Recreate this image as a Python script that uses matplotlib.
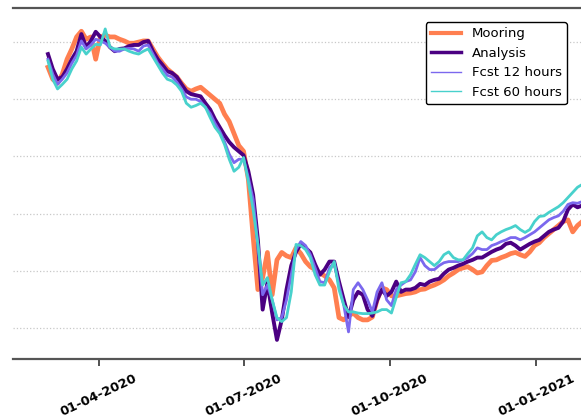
import numpy as np
import pandas as pd
import matplotlib
matplotlib.use("Agg")
import matplotlib.pyplot as plt
import matplotlib.dates as mdates

# 3-day samples starting on 29 Feb 2020
dates = pd.date_range("2020-02-29", periods=113, freq="3D")

mooring = [
    22.56, 22.35, 22.28, 22.44, 22.70, 22.88, 23.09, 23.19, 23.05, 23.09,
    22.70, 23.09, 23.12, 23.09, 23.09, 23.05, 23.02, 22.98, 22.98, 23.00,
    23.02, 23.02, 22.88, 22.74, 22.63, 22.53, 22.46, 22.39, 22.28, 22.18,
    22.14, 22.18, 22.21, 22.14, 22.07, 22.00, 21.93, 21.74, 21.61, 21.40,
    21.19, 21.09, 20.60, 19.60, 18.67, 18.88, 19.32, 18.58, 19.19, 19.32,
    19.26, 19.23, 19.40, 19.30, 19.16, 19.07, 19.02, 18.96, 18.91, 18.84,
    18.70, 18.18, 18.14, 18.21, 18.26, 18.18, 18.14, 18.14, 18.19, 18.49,
    18.70, 18.67, 18.56, 18.56, 18.58, 18.60, 18.61, 18.63, 18.67, 18.68,
    18.72, 18.75, 18.79, 18.84, 18.91, 18.96, 19.02, 19.05, 19.07, 19.02,
    18.96, 18.98, 19.09, 19.18, 19.19, 19.23, 19.26, 19.30, 19.32, 19.28,
    19.25, 19.33, 19.44, 19.49, 19.58, 19.65, 19.72, 19.79, 19.86, 19.89,
    19.68, 19.79, 19.86,
]

analysis = [
    22.79, 22.53, 22.35, 22.39, 22.53, 22.70, 22.84, 23.14, 22.91, 23.02,
    23.18, 23.09, 23.02, 22.91, 22.84, 22.88, 22.89, 22.93, 22.95, 22.95,
    23.00, 23.02, 22.84, 22.70, 22.60, 22.49, 22.46, 22.39, 22.26, 22.14,
    22.09, 22.07, 22.05, 21.93, 21.82, 21.65, 21.51, 21.37, 21.25, 21.16,
    21.09, 21.02, 20.74, 20.33, 19.54, 18.32, 18.79, 18.26, 17.79, 18.14,
    18.67, 19.09, 19.33, 19.47, 19.40, 19.32, 19.11, 18.93, 19.02, 19.16,
    19.16, 18.81, 18.49, 18.19, 18.49, 18.63, 18.58, 18.32, 18.21, 18.49,
    18.67, 18.56, 18.63, 18.81, 18.63, 18.67, 18.67, 18.70, 18.77, 18.75,
    18.81, 18.84, 18.86, 18.95, 19.02, 19.05, 19.09, 19.12, 19.16, 19.19,
    19.23, 19.23, 19.28, 19.33, 19.37, 19.40, 19.47, 19.49, 19.44, 19.37,
    19.42, 19.47, 19.51, 19.54, 19.61, 19.68, 19.72, 19.75, 19.86, 20.07,
    20.16, 20.11, 20.14,
]

fcst_12h = [
    22.70, 22.44, 22.26, 22.35, 22.46, 22.63, 22.77, 23.02, 22.88, 22.95,
    23.05, 23.02, 22.98, 22.91, 22.84, 22.84, 22.88, 22.89, 22.88, 22.84,
    22.93, 22.95, 22.79, 22.63, 22.53, 22.42, 22.39, 22.30, 22.18, 22.04,
    22.00, 22.00, 21.96, 21.86, 21.75, 21.58, 21.44, 21.26, 21.04, 20.89,
    20.95, 20.95, 20.63, 20.25, 19.46, 18.58, 18.75, 18.49, 18.14, 18.18,
    18.49, 18.93, 19.37, 19.51, 19.44, 19.28, 19.05, 18.81, 18.79, 19.05,
    19.14, 18.75, 18.40, 17.93, 18.67, 18.79, 18.67, 18.49, 18.28, 18.63,
    18.79, 18.49, 18.39, 18.67, 18.75, 18.81, 18.84, 18.98, 19.23, 19.09,
    19.02, 19.02, 19.09, 19.14, 19.16, 19.16, 19.16, 19.19, 19.23, 19.30,
    19.40, 19.37, 19.37, 19.44, 19.47, 19.51, 19.54, 19.58, 19.58, 19.54,
    19.58, 19.63, 19.68, 19.75, 19.82, 19.89, 19.93, 19.96, 20.04, 20.16,
    20.19, 20.18, 20.21,
]

fcst_60h = [
    22.67, 22.35, 22.18, 22.26, 22.35, 22.53, 22.67, 22.91, 22.79, 22.88,
    22.96, 22.95, 23.23, 22.91, 22.88, 22.88, 22.88, 22.84, 22.81, 22.79,
    22.84, 22.88, 22.74, 22.60, 22.46, 22.35, 22.32, 22.25, 22.14, 21.93,
    21.86, 21.89, 21.93, 21.86, 21.68, 21.51, 21.40, 21.21, 20.95, 20.74,
    20.81, 20.98, 20.56, 20.07, 19.46, 18.75, 18.88, 18.49, 18.18, 18.11,
    18.18, 18.63, 19.46, 19.44, 19.37, 19.23, 18.93, 18.75, 18.75, 18.98,
    19.16, 18.67, 18.40, 18.28, 18.28, 18.26, 18.25, 18.25, 18.26, 18.28,
    18.32, 18.32, 18.26, 18.53, 18.79, 18.81, 18.93, 19.11, 19.28, 19.23,
    19.16, 19.09, 19.16, 19.28, 19.33, 19.23, 19.19, 19.19, 19.30, 19.40,
    19.61, 19.68, 19.58, 19.54, 19.63, 19.68, 19.72, 19.75, 19.79, 19.72,
    19.67, 19.72, 19.86, 19.95, 19.96, 20.02, 20.07, 20.12, 20.19, 20.28,
    20.37, 20.46, 20.51,
]

# hourly jitter makes the traces look like bands, so draw them a bit wider
series = [
    ("Mooring", mooring, "coral", 3.4),
    ("Analysis", analysis, "indigo", 2.8),
    ("Fcst 12 hours", fcst_12h, "mediumslateblue", 2.0),
    ("Fcst 60 hours", fcst_60h, "mediumturquoise", 2.0),
]
legend_widths = [3.0, 2.5, 1.0, 1.0]

fig = plt.figure(figsize=(5.81, 4.19), dpi=100)
ax = fig.add_axes([13 / 581, 60 / 419, 1 - 13 / 581, 351 / 419])

for name, vals, color, lw in series:
    ax.plot(dates, vals, color=color, lw=lw, label=name)

ax.set_xlim(pd.Timestamp("2020-02-07"), pd.Timestamp("2021-01-29 05:00"))
ax.set_ylim(17.456, 23.596)
ax.set_yticks(np.arange(18, 24, 1))
ax.yaxis.grid(True, linestyle=":", color="#c8c8c8", lw=0.9)
ax.tick_params(axis="y", left=False, labelleft=False)

ax.xaxis.set_major_locator(mdates.MonthLocator(bymonth=[1, 4, 7, 10]))
ax.xaxis.set_major_formatter(mdates.DateFormatter("%d-%m-%Y"))
ax.tick_params(axis="x", length=5, width=1.2, color="#333333", pad=4)
plt.setp(ax.get_xticklabels(), rotation=25, ha="center", fontsize=9.3, fontweight="bold")

for side in ["left", "right"]:
    ax.spines[side].set_visible(False)
for side in ["top", "bottom"]:
    ax.spines[side].set_color("#555555")
    ax.spines[side].set_linewidth(1.6)

leg = ax.legend(loc="upper right", bbox_to_anchor=(567 / 581, 1 - 22 / 419),
                bbox_transform=fig.transFigure, borderaxespad=0, fontsize=9.5,
                handlelength=2.3, edgecolor="black", framealpha=1)
leg.get_frame().set_linewidth(1.0)
for h, w in zip(leg.get_lines(), legend_widths):
    h.set_linewidth(w)

fig.savefig("out.png", dpi=100)
